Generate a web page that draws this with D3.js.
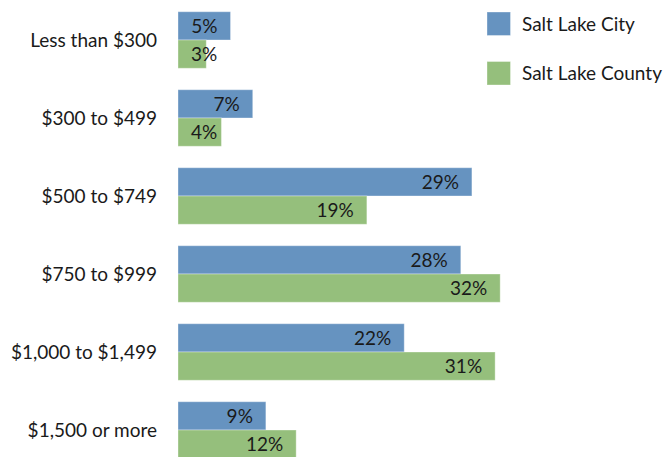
<!DOCTYPE html>
<html><head><meta charset="utf-8">
<script src="https://cdn.jsdelivr.net/npm/d3@7"></script>
<style>body{margin:0;background:#fff}svg{display:block}</style>
</head><body>
<script>
const categories = ["Less than $300","$300 to $499","$500 to $749","$750 to $999","$1,000 to $1,499","$1,500 or more"];
const seriesNames = ["Salt Lake City","Salt Lake County"];
const cityValues = [5.2, 7.4, 29.1, 28.0, 22.4, 8.7];
const countyValues = [2.8, 4.3, 18.7, 31.9, 31.4, 11.7];
const colors = ["#6693C0", "#95BF7C"];

const W = 670, H = 457;
const font = "Lato, 'Open Sans', sans-serif";
const fs = 19;
const svg = d3.select("body").append("svg").attr("width", W).attr("height", H);

const x = d3.scaleLinear().domain([0, 10]).range([178, 279]);
const y = d3.scaleBand().domain(categories).range([1, 469]).paddingInner(0.275).paddingOuter(0.1375);
const inner = d3.scaleBand().domain(seriesNames).range([0, y.bandwidth()]);

const rows = categories.map((c, i) => ({cat: c, vals: [cityValues[i], countyValues[i]]}));

const g = svg.append("g");
const grp = g.selectAll("g.cat").data(rows).join("g").attr("transform", d => `translate(0,${y(d.cat)})`);

grp.selectAll("rect").data(d => d.vals.map((v, k) => ({v, k}))).join("rect")
  .attr("x", x(0))
  .attr("y", d => inner(seriesNames[d.k]))
  .attr("width", d => x(d.v) - x(0))
  .attr("height", inner.bandwidth())
  .attr("fill", d => colors[d.k])
  .attr("stroke", "rgba(255,255,255,0.35)").attr("stroke-width", 1);

grp.selectAll("text.val").data(d => d.vals.map((v, k) => ({v, k}))).join("text")
  .attr("class", "val")
  .attr("y", d => inner(seriesNames[d.k]) + inner.bandwidth() / 2)
  .attr("dy", "0.36em")
  .attr("font-family", font).attr("font-size", fs).attr("fill", "#1a1a1a")
  .attr("text-anchor", "end")
  .text(d => Math.round(d.v) + "%")
  .each(function(d) {
    const w = this.getComputedTextLength();
    const xe = Math.max(x(d.v) - 13, x(0) + 13 + w);
    d3.select(this).attr("x", xe);
  });

const yAxis = d3.axisLeft(y).tickSize(0).tickPadding(0);
const ax = svg.append("g").attr("transform", "translate(157,0)").call(yAxis);
ax.select(".domain").remove();
ax.selectAll("text").attr("font-family", font).attr("font-size", fs).attr("fill", "#1a1a1a").attr("dy", "0.36em");

const lg = svg.append("g");
const lgItems = lg.selectAll("g").data(seriesNames).join("g")
  .attr("transform", (d, i) => `translate(487,${12 + i * 49.5})`);
lgItems.append("rect").attr("width", 23.5).attr("height", 23.5).attr("fill", (d, i) => colors[i])
  .attr("stroke", "rgba(255,255,255,0.35)");
lgItems.append("text").attr("x", 35).attr("y", 12).attr("dy", "0.36em")
  .attr("font-family", font).attr("font-size", fs).attr("fill", "#1a1a1a").text(d => d);
</script>
</body></html>
